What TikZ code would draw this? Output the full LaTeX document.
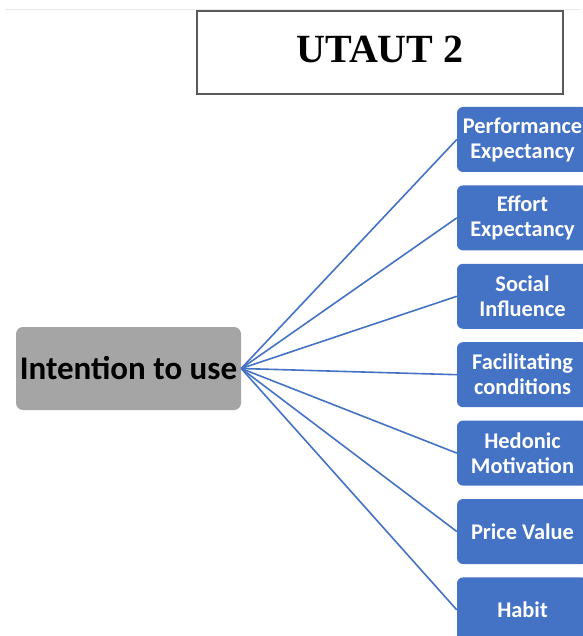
\documentclass[tikz,border=0pt]{standalone}
\usepackage{fontspec}
\setsansfont{Carlito}
\newfontfamily\titlefont{Liberation Serif}
\usetikzlibrary{positioning}
\definecolor{officeblue}{RGB}{68,114,196}
\definecolor{boxgray}{RGB}{165,165,165}
\definecolor{framegray}{RGB}{90,90,90}

\begin{document}
\begin{tikzpicture}[x=1pt, y=-1pt, every node/.style={align=center},
  factor/.style={rounded corners=6pt, fill=officeblue, text=white, minimum width=131pt, minimum height=65pt, font=\sffamily\bfseries\fontsize{22.4}{25}\selectfont},
  link/.style={officeblue, line width=1.6pt}]
\useasboundingbox (0,0) rectangle (582,636);
\draw[black!8, line width=1pt] (5,10) -- (582,10);
\node[draw=framegray, line width=1.5pt, minimum width=366pt, minimum height=83pt, text depth=6pt, font=\titlefont\bfseries\fontsize{40}{44}\selectfont] (title) at (380,52.5) {UTAUT 2};
\node[rounded corners=7pt, fill=boxgray, minimum width=225pt, minimum height=83pt, font=\sffamily\bfseries\fontsize{33}{36}\selectfont] (intent) at (128.5,368.5) {Intention to use};
\node[factor] (perf) at (522.5,139.5) {Performance\\Expectancy};
\node[factor, below=13pt of perf] (effort) {Effort\\Expectancy};
\node[factor, below=13pt of effort] (social) {Social\\Influence};
\node[factor, below=13pt of social] (facil) {Facilitating\\conditions};
\node[factor, below=13pt of facil] (hedonic) {Hedonic\\Motivation};
\node[factor, below=13pt of hedonic] (price) {Price Value};
\node[factor, below=13pt of price] (habit) {Habit};
\draw[link] (intent.east) -- (perf.west);
\draw[link] (intent.east) -- (effort.west);
\draw[link] (intent.east) -- (social.west);
\draw[link] (intent.east) -- (facil.west);
\draw[link] (intent.east) -- (hedonic.west);
\draw[link] (intent.east) -- (price.west);
\draw[link] (intent.east) -- (habit.west);
\end{tikzpicture}
\end{document}
